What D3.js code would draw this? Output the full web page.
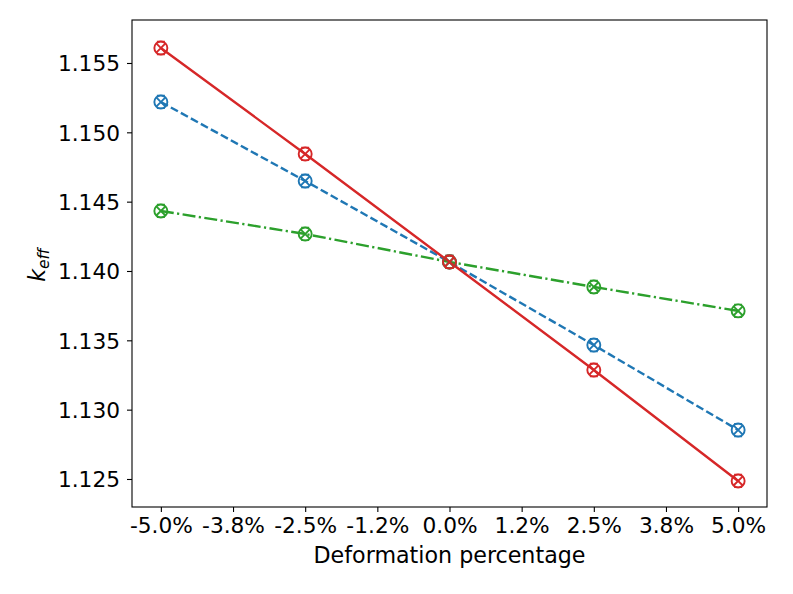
<!DOCTYPE html>
<html>
<head>
<meta charset="utf-8">
<script src="https://cdn.jsdelivr.net/npm/d3@7"></script>
<style>
  body { margin: 0; background: #fff; }
  text { font-family: "DejaVu Sans", sans-serif; }
</style>
</head>
<body>
<div id="chart"></div>
<script>
var deformation = [-5, -2.5, 0, 2.5, 5]
var seriesRed = [1.15608, 1.14844, 1.14065, 1.13286, 1.12486]
var seriesBlue = [1.15219, 1.14649, 1.14065, 1.13466, 1.12853]
var seriesGreen = [1.14433, 1.14267, 1.14065, 1.13885, 1.13712]
var xTicks = [-5, -3.75, -2.5, -1.25, 0, 1.25, 2.5, 3.75, 5]
var xTickLabels = ['-5.0%', '-3.8%', '-2.5%', '-1.2%', '0.0%', '1.2%', '2.5%', '3.8%', '5.0%']
var yTicks = [1.125, 1.130, 1.135, 1.140, 1.145, 1.150, 1.155]

var width = 793
var height = 594
var margin = { left: 132, right: 26, top: 20, bottom: 87 }
var fontSize = 21.7

var series = [
  { values: seriesBlue, color: '#1f77b4', dash: '8,3.4' },
  { values: seriesGreen, color: '#2ca02c', dash: '13,3.4,2.2,3.4' },
  { values: seriesRed, color: '#d62728', dash: null }
]

var x = d3.scaleLinear()
  .domain([-5.5, 5.5])
  .range([margin.left, width - margin.right])
var y = d3.scaleLinear()
  .domain([1.12298, 1.15810])
  .range([height - margin.bottom, margin.top])

var svg = d3.select('#chart').append('svg')
  .attr('width', width)
  .attr('height', height)

var xAxis = d3.axisBottom(x)
  .tickValues(xTicks)
  .tickFormat(function (d, i) { return xTickLabels[i] })
  .tickSizeOuter(0)
  .tickSize(5)
  .tickPadding(6)
var yAxis = d3.axisLeft(y)
  .tickValues(yTicks)
  .tickFormat(d3.format('.3f'))
  .tickSizeOuter(0)
  .tickSize(5)
  .tickPadding(7)

var gx = svg.append('g')
  .attr('transform', 'translate(0,' + (height - margin.bottom) + ')')
  .call(xAxis)
var gy = svg.append('g')
  .attr('transform', 'translate(' + margin.left + ',0)')
  .call(yAxis)

;[gx, gy].forEach(function (g) {
  g.select('.domain').remove()
  g.selectAll('.tick line').attr('stroke', '#000').attr('stroke-width', 1.1)
  g.selectAll('.tick text')
    .attr('fill', '#000')
    .style('font-size', fontSize + 'px')
    .style('font-family', '"DejaVu Sans", sans-serif')
})
gy.selectAll('.tick text').attr('dy', '0.36em')

var line = d3.line()
  .x(function (d, i) { return x(deformation[i]) })
  .y(function (d) { return y(d) })

var plot = svg.append('g')

series.forEach(function (s) {
  plot.append('path')
    .datum(s.values)
    .attr('d', line)
    .attr('fill', 'none')
    .attr('stroke', s.color)
    .attr('stroke-width', 2.4)
    .attr('stroke-dasharray', s.dash)
})

series.forEach(function (s) {
  var m = plot.append('g').selectAll('g')
    .data(s.values)
    .enter().append('g')
    .attr('transform', function (d, i) {
      return 'translate(' + x(deformation[i]) + ',' + y(d) + ')'
    })
    .attr('stroke', s.color)
    .attr('fill', 'none')
    .attr('stroke-width', 1.9)
  m.append('circle').attr('r', 6.5)
  m.append('path').attr('d', 'M-4.6,-4.6L4.6,4.6M-4.6,4.6L4.6,-4.6')
  m.append('path').attr('d', 'M-4,-6.5L4,-6.5M-4,6.5L4,6.5').attr('stroke-width', 1.3)
})

svg.append('rect')
  .attr('x', margin.left)
  .attr('y', margin.top)
  .attr('width', width - margin.left - margin.right)
  .attr('height', height - margin.top - margin.bottom)
  .attr('fill', 'none')
  .attr('stroke', '#000')
  .attr('stroke-width', 1.1)

svg.append('text')
  .attr('x', (margin.left + width - margin.right) / 2)
  .attr('y', 563)
  .attr('text-anchor', 'middle')
  .style('font-size', '22.2px')
  .text('Deformation percentage')

var yl = svg.append('text')
  .attr('transform', 'translate(45,265) rotate(-90)')
  .attr('text-anchor', 'middle')
  .style('font-size', '22.2px')
  .style('font-style', 'italic')
yl.append('tspan').text('k')
yl.append('tspan')
  .attr('dy', 4)
  .style('font-size', '15.5px')
  .text('eff')
</script>
</body>
</html>
